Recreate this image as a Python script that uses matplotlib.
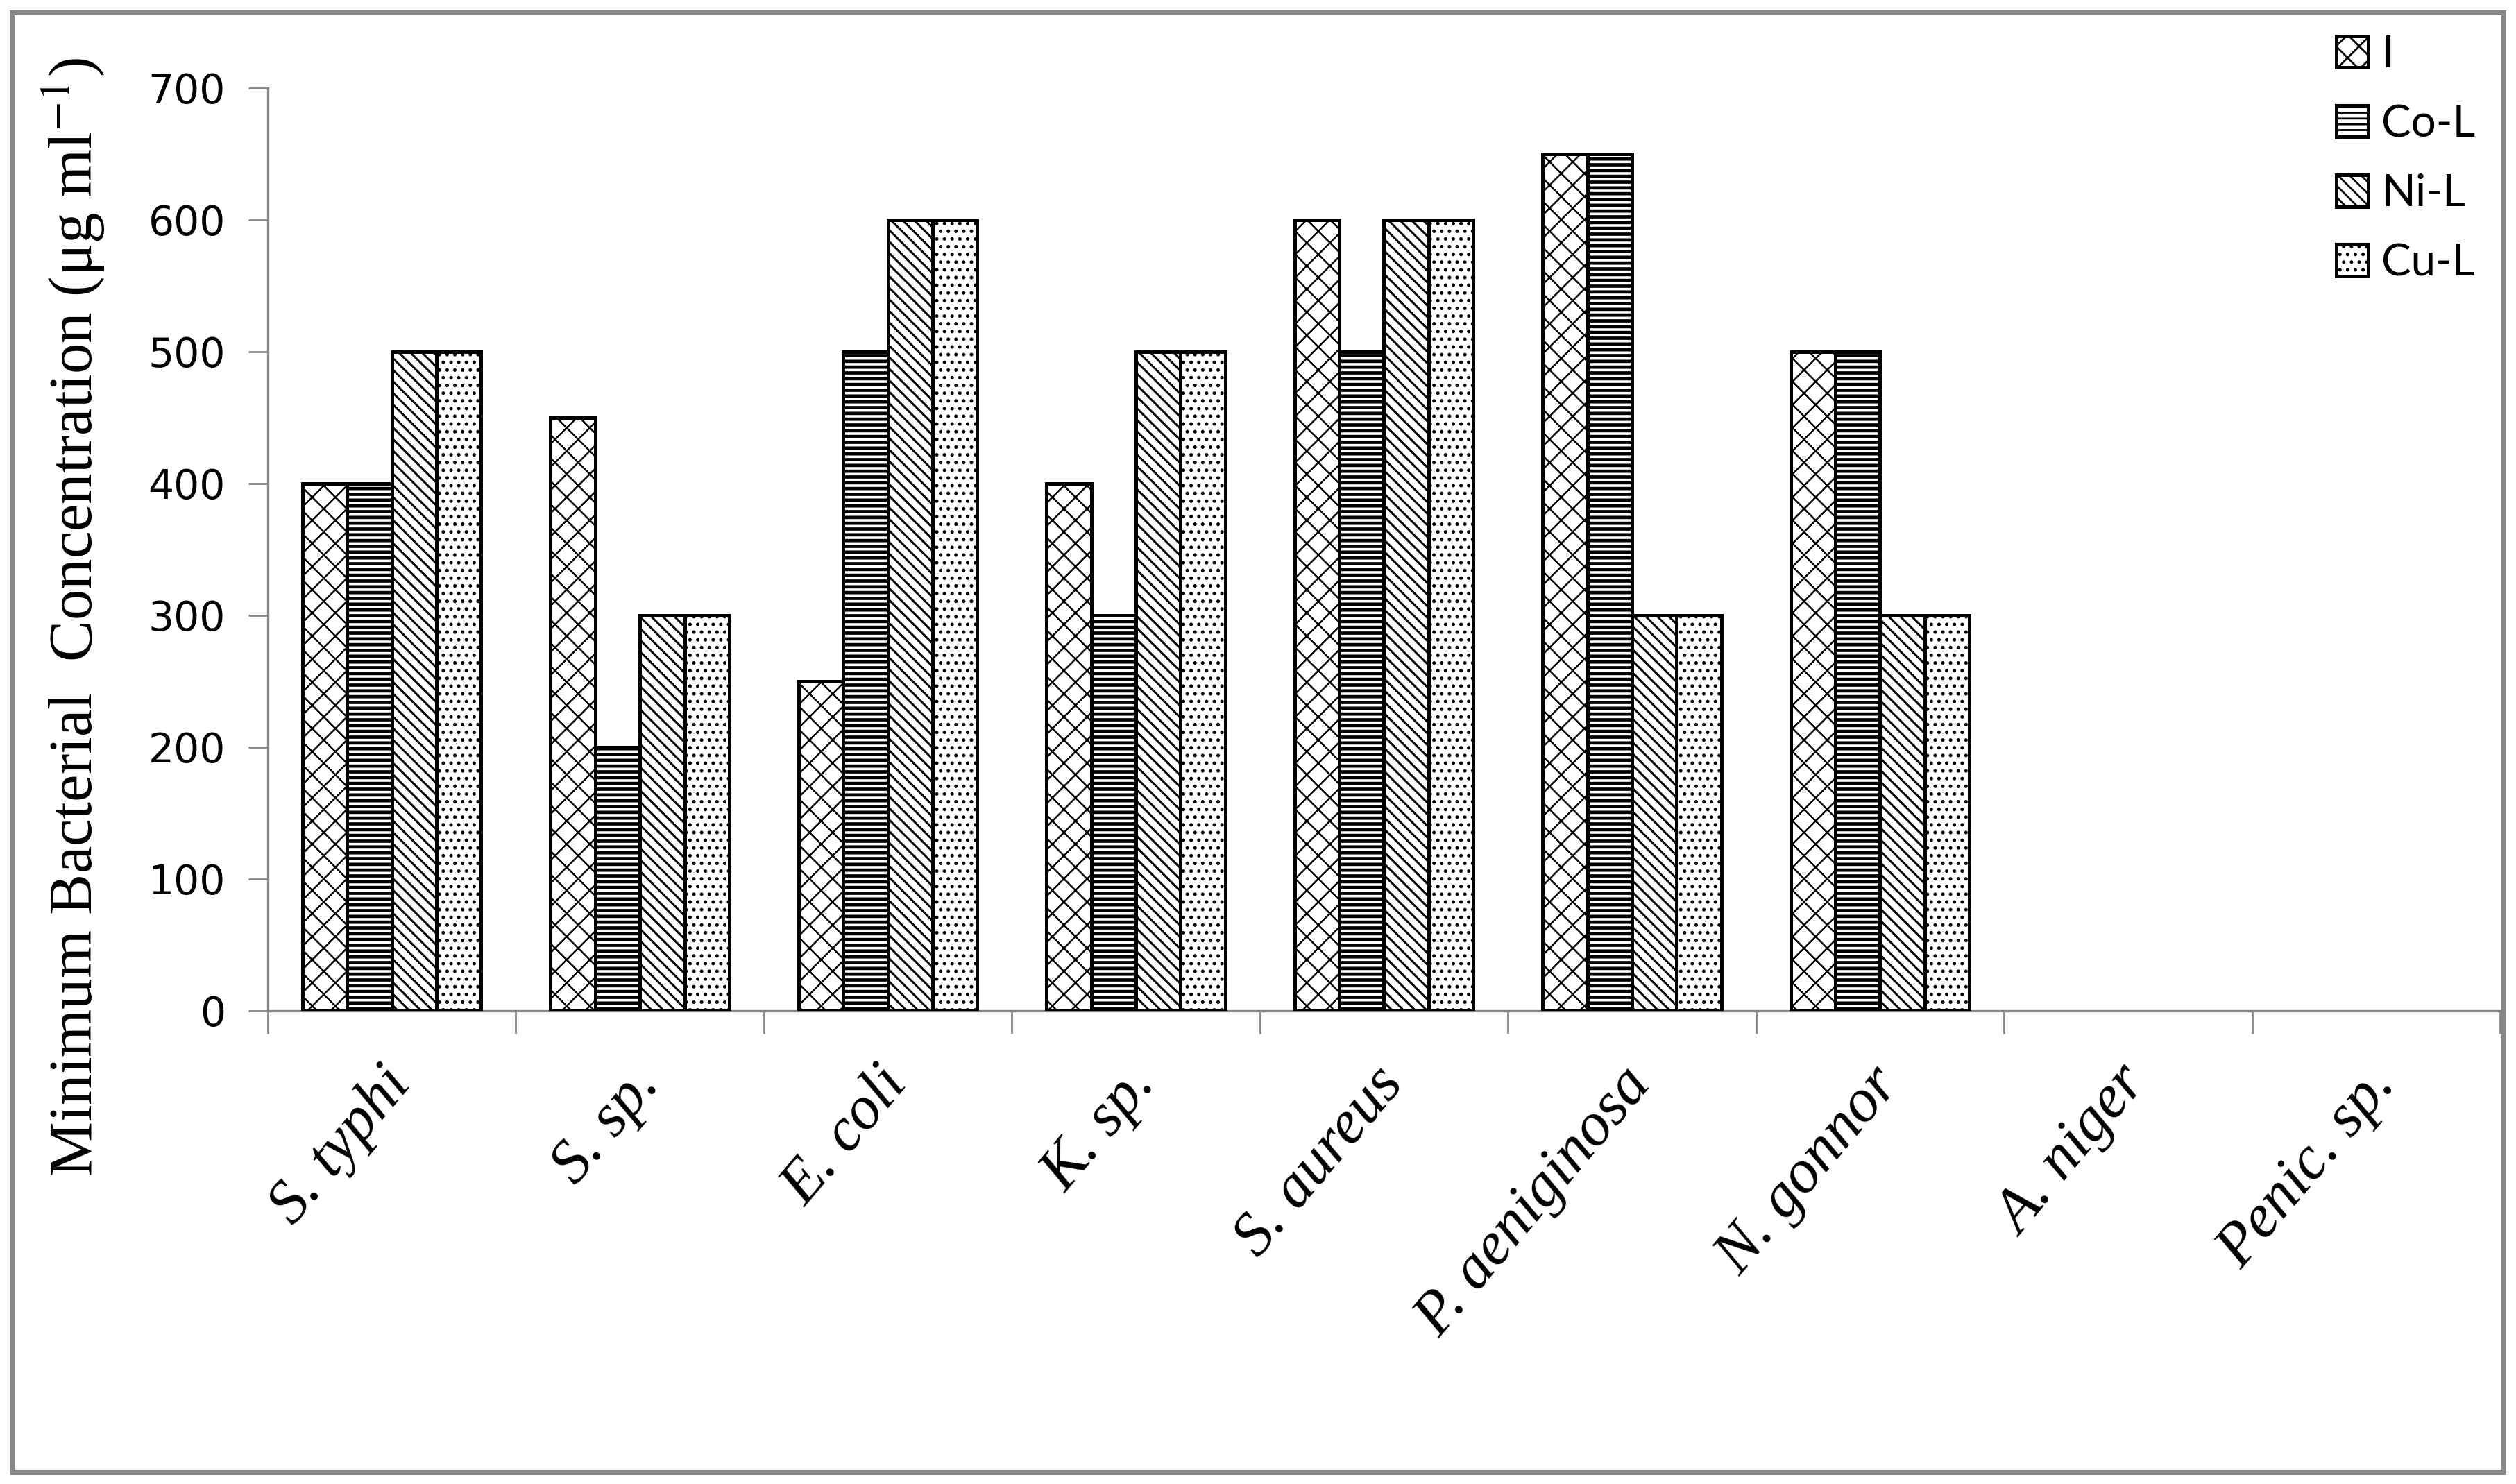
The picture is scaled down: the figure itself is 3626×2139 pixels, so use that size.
import numpy as np
import matplotlib
matplotlib.use('Agg')
import matplotlib.pyplot as plt
from matplotlib.patches import Rectangle

# Data
organisms = ['S. typhi', 'S. sp.', 'E. coli', 'K. sp.', 'S. aureus',
             'P. aeniginosa', 'N. gonnor', 'A. niger', 'Penic. sp.']
series_names = ['I', 'Co-L', 'Ni-L', 'Cu-L']
vals_I = [400, 450, 250, 400, 600, 650, 500, 0, 0]
vals_CoL = [400, 200, 500, 300, 500, 650, 500, 0, 0]
vals_NiL = [500, 300, 600, 500, 600, 300, 300, 0, 0]
vals_CuL = [500, 300, 600, 500, 600, 300, 300, 0, 0]
y_ticks = [0, 100, 200, 300, 400, 500, 600, 700]

grey = '#868686'
W, H = 3626, 2139
dpi = 200

fig = plt.figure(figsize=(W / dpi, H / dpi), dpi=dpi)
fig.patch.set_facecolor('white')

# outer grey frame of the chart area
fig.add_artist(Rectangle((17 / W, 1 - 2122 / H), (3608 - 17) / W, (2122 - 18) / H,
                         transform=fig.transFigure, fill=False,
                         edgecolor=grey, linewidth=2.5))

ax = fig.add_axes([386 / W, 1 - 1457 / H, (3603 - 386) / W, (1457 - 127) / H])

x = np.arange(len(organisms))
bw = 0.18
all_vals = [vals_I, vals_CoL, vals_NiL, vals_CuL]
hatches = ['xx', '----', '\\\\\\\\', '...']
hatch_lw = [0.9, 1.7, 1.1, 1.0]

for i, (vals, name) in enumerate(zip(all_vals, series_names)):
    plt.rcParams['hatch.linewidth'] = hatch_lw[i]
    offs = (i - 1.5) * bw
    bars = ax.bar(x + offs, vals, width=bw, facecolor='white', edgecolor='black',
                  linewidth=1.8, hatch=hatches[i], label=name, zorder=3)
    for b in bars:
        if hasattr(b, 'set_hatch_linewidth'):
            b.set_hatch_linewidth(hatch_lw[i])
        if b.get_height() == 0:
            b.set_visible(False)

ax.set_xlim(-0.5, len(organisms) - 0.5)
ax.set_ylim(0, 700)
ax.set_yticks(y_ticks)
ax.set_yticklabels([str(v) for v in y_ticks], fontsize=21, family='DejaVu Sans')

# label anchors sit a touch left of the group centres (ticks are hidden)
ax.set_xticks(x - 0.05)
ax.set_xticklabels(organisms, rotation=50, ha='right', rotation_mode='anchor',
                   fontsize=32, family='Liberation Serif', style='italic')
ax.set_xticks(np.arange(len(organisms) + 1) - 0.5, minor=True)
ax.tick_params(axis='x', which='major', length=0, pad=24)
ax.tick_params(axis='x', which='minor', length=12, width=1.0, color=grey, direction='out')
ax.tick_params(axis='y', length=10, width=1.0, color=grey, direction='out', pad=12)

for s in ['top', 'right']:
    ax.spines[s].set_visible(False)
for s in ['left', 'bottom']:
    ax.spines[s].set_color(grey)
    ax.spines[s].set_linewidth(1.2)

plt.rcParams['mathtext.fontset'] = 'stix'
fig.text(106 / W, 1 - 890 / H, 'Minimum Bacterial  Concentration (μg ml$^{-1}$)',
         rotation=90, ha='center', va='center', fontsize=32, family='Liberation Serif')

leg = fig.legend(loc='upper left', bbox_to_anchor=(3367 / W, 1 - 50 / H),
                 frameon=False, prop={'family': 'Lato', 'size': 23},
                 handlelength=0.72, handleheight=0.72, handletextpad=0.3,
                 labelspacing=0.66, borderpad=0, borderaxespad=0)

fig.savefig('out.png', dpi=dpi, facecolor='white')
